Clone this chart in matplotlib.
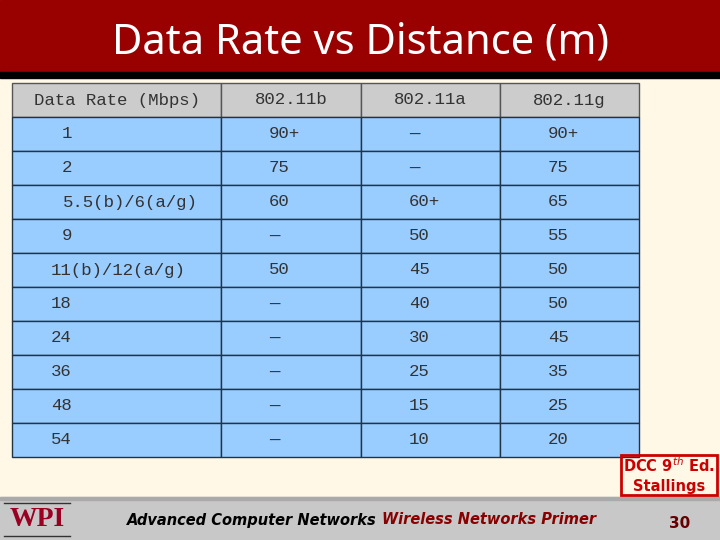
import matplotlib
matplotlib.use("Agg")
import matplotlib.pyplot as plt
from matplotlib.patches import Rectangle

headers = ["Data Rate (Mbps)", "802.11b", "802.11a", "802.11g"]
rates = ["1", "2", "5.5(b)/6(a/g)", "9", "11(b)/12(a/g)", "18", "24", "36", "48", "54"]
b_range = ["90+", "75", "60", "—", "50", "—", "—", "—", "—", "—"]
a_range = ["—", "—", "60+", "50", "45", "40", "30", "25", "15", "10"]
g_range = ["90+", "75", "65", "55", "50", "50", "45", "35", "25", "20"]

# layout (pixels)
col_x = [12, 221, 361, 500, 639]
top, row_h = 83, 34.0
rate_x = [62, 62, 63, 62, 51, 51, 51, 51, 51, 51]

fig = plt.figure(figsize=(7.2, 5.4), dpi=100)
ax = fig.add_axes([0, 0, 1, 1])
ax.set_xlim(0, 720); ax.set_ylim(540, 0); ax.axis("off")

ax.add_patch(Rectangle((0, 0), 720, 540, color="#FFF8E6", zorder=0))
ax.add_patch(Rectangle((0, 0), 720, 72, color="#990000", zorder=1))
ax.add_patch(Rectangle((0, 72), 720, 6, color="black", zorder=1))
ax.text(360, 42, "Data Rate vs Distance (m)", color="white", fontsize=30,
        fontweight="bold", ha="center", va="center", family="Noto Sans", zorder=2)

mono = dict(family="Liberation Mono", fontsize=12.5, color="#333333", va="center")
# header row
for j, h in enumerate(headers):
    x0, x1 = col_x[j], col_x[j + 1]
    ax.add_patch(Rectangle((x0, top), x1 - x0, row_h, fc="#CCCCCC", ec="#555555", lw=1, zorder=2))
    ax.text((x0 + x1) / 2, top + row_h / 2, h, ha="center", zorder=3, **mono)
# body
cols = [rates, b_range, a_range, g_range]
for i in range(len(rates)):
    y = top + row_h * (i + 1)
    for j in range(4):
        x0, x1 = col_x[j], col_x[j + 1]
        ax.add_patch(Rectangle((x0, y), x1 - x0, row_h, fc="#99CCFF", ec="#223344", lw=1, zorder=2))
        if j == 0:
            ax.text(rate_x[i], y + row_h / 2, cols[j][i], ha="left", zorder=3, **mono)
        else:
            ax.text(x0 + 48, y + row_h / 2, cols[j][i], ha="left", zorder=3, **mono)

# citation box
ax.add_patch(Rectangle((621, 455), 96, 40, fc="none", ec="#CC0000", lw=2, zorder=3))
ax.text(669, 475, "DCC 9$^{th}$ Ed.\nStallings", color="#CC0000", fontsize=10.5,
        fontweight="bold", ha="center", va="center", linespacing=1.3, zorder=4)

# footer
ax.add_patch(Rectangle((0, 497), 720, 43, color="#C8C8C8", zorder=1))
ax.add_patch(Rectangle((0, 497), 720, 3, color="#AAAAAA", zorder=1))
ax.plot([4, 70], [503, 503], color="#333333", lw=1, zorder=2)
ax.plot([4, 70], [536, 536], color="#333333", lw=1, zorder=2)
ax.text(37, 520, "WPI", color="#990022", fontsize=20, family="Liberation Serif",
        fontweight="bold", ha="center", va="center", zorder=3)
ax.text(252, 520, "Advanced Computer Networks", fontsize=10.5, fontweight="bold",
        style="italic", ha="center", va="center", color="black", zorder=3)
ax.text(489, 520, "Wireless Networks Primer", fontsize=10.5, fontweight="bold",
        style="italic", ha="center", va="center", color="#880000", zorder=3)
ax.text(680, 523, "30", fontsize=11, fontweight="bold", ha="center", va="center",
        color="#660000", zorder=3)

fig.savefig("out.png", dpi=100)
